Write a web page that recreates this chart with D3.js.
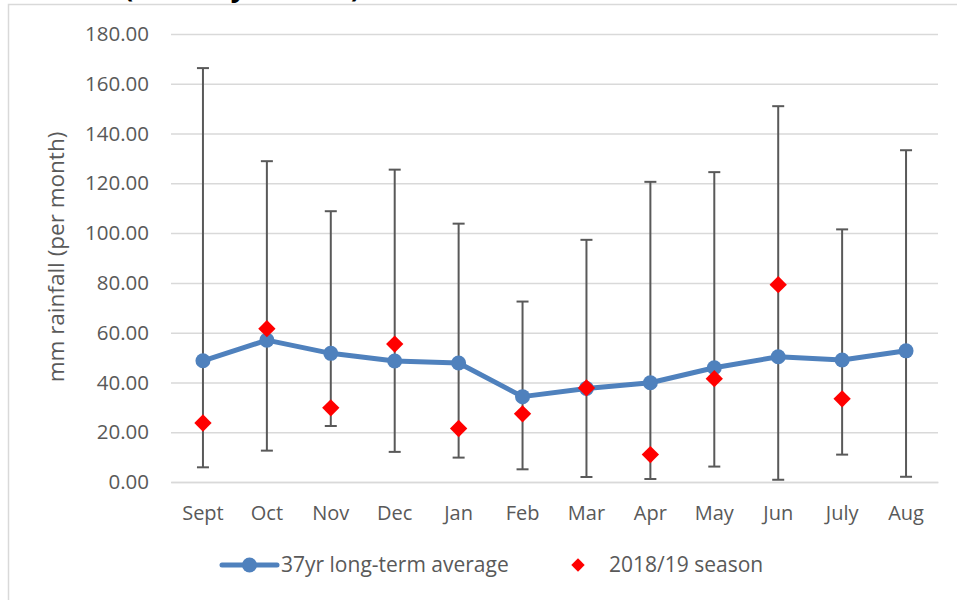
<!DOCTYPE html>
<html>
<head>
<meta charset="utf-8">
<script src="https://cdn.jsdelivr.net/npm/d3@7"></script>
<style>
  body { margin: 0; background: #fff; }
  svg { display: block; font-family: "Open Sans", sans-serif; }
</style>
</head>
<body>
<div id="chart"></div>
<script>
// months of the season
const months = ["Sept", "Oct", "Nov", "Dec", "Jan", "Feb", "Mar", "Apr", "May", "Jun", "July", "Aug"];
// 37yr long-term average (mm)
const longTermAvg = [48.7, 57.0, 51.7, 48.6, 47.8, 34.3, 37.6, 39.9, 45.9, 50.3, 49.0, 52.7];
// error bar range (min / max of the record)
const rangeLow = [5.9, 12.6, 22.5, 12.1, 9.8, 5.1, 2.0, 1.2, 6.2, 0.9, 11.0, 2.1];
const rangeHigh = [166.3, 128.9, 108.8, 125.5, 103.8, 72.5, 97.3, 120.6, 124.5, 151.0, 101.5, 133.3];
// 2018/19 season (no value yet for Aug)
const season1819 = [23.7, 61.6, 29.8, 55.4, 21.5, 27.4, 37.8, 11.0, 41.5, 79.3, 33.4, null];
const yTicks = [0, 20, 40, 60, 80, 100, 120, 140, 160, 180];

const W = 957, H = 600;
const margin = { top: 34, right: 19, bottom: 118, left: 171 };
const blue = "#4f81bd";
const textColor = "#595959";

const svg = d3.select("#chart")
    .append("svg")
    .attr("width", W)
    .attr("height", H);

// chart area border (only top and left edges show in frame)
svg.append("rect")
    .attr("x", 8.5).attr("y", 4.5)
    .attr("width", 1000).attr("height", 1000)
    .attr("fill", "none")
    .attr("stroke", "#d9d9d9")
    .attr("stroke-width", 1.5);

// title, mostly cut off at the top of the picture (as in the source)
svg.append("text")
    .attr("x", 124).attr("y", -3)
    .attr("font-size", 27)
    .attr("font-weight", "bold")
    .attr("fill", "#000")
    .text("(Monthly rainfall)");

const xScale = d3.scaleBand()
    .domain(months)
    .range([margin.left, W - margin.right]);

const yScale = d3.scaleLinear()
    .domain([0, 180])
    .range([H - margin.bottom, margin.top]);

const cx = m => xScale(m) + xScale.bandwidth() / 2;

// gridlines + y labels
const yAxis = d3.axisLeft(yScale)
    .tickValues(yTicks)
    .tickSize(-(W - margin.right - margin.left))
    .tickPadding(22)
    .tickFormat(d3.format(".2f"));

const gy = svg.append("g")
    .attr("transform", `translate(${margin.left},0)`)
    .call(yAxis);
gy.select(".domain").remove();
gy.selectAll(".tick line").attr("stroke", "#d9d9d9").attr("stroke-width", 1.5);
gy.selectAll(".tick text")
    .attr("fill", textColor)
    .attr("font-size", 20.5)
    .attr("font-family", "Open Sans, sans-serif");

// x labels
const xAxis = d3.axisBottom(xScale).tickSize(0).tickPadding(24);
const gx = svg.append("g")
    .attr("transform", `translate(0,${H - margin.bottom})`)
    .call(xAxis);
gx.select(".domain").attr("stroke", "#d9d9d9").attr("stroke-width", 1.5);
gx.selectAll(".tick text")
    .attr("fill", textColor)
    .attr("font-size", 20)
    .attr("font-family", "Open Sans, sans-serif");

// y axis title
svg.append("text")
    .attr("transform", `translate(64,257) rotate(-90)`)
    .attr("text-anchor", "middle")
    .attr("font-size", 22.5)
    .attr("fill", textColor)
    .text("mm rainfall (per month)");

// error bars
const capW = 6;
const bars = svg.append("g").attr("stroke", "#595959").attr("stroke-width", 2);
months.forEach((m, i) => {
    const x = cx(m);
    bars.append("line")
        .attr("x1", x).attr("x2", x)
        .attr("y1", yScale(rangeLow[i])).attr("y2", yScale(rangeHigh[i]));
    [rangeLow[i], rangeHigh[i]].forEach(v => {
        bars.append("line")
            .attr("x1", x - capW).attr("x2", x + capW)
            .attr("y1", yScale(v)).attr("y2", yScale(v));
    });
});

// long-term average line
const line = d3.line()
    .x((d, i) => cx(months[i]))
    .y(d => yScale(d));

svg.append("path")
    .datum(longTermAvg)
    .attr("d", line)
    .attr("fill", "none")
    .attr("stroke", blue)
    .attr("stroke-width", 5)
    .attr("stroke-linejoin", "round");

svg.append("g")
    .selectAll("circle")
    .data(longTermAvg)
    .join("circle")
    .attr("cx", (d, i) => cx(months[i]))
    .attr("cy", d => yScale(d))
    .attr("r", 7.5)
    .attr("fill", blue);

// 2018/19 season diamonds
const diamond = d3.symbol().type(d3.symbolSquare).size(150);
svg.append("g")
    .selectAll("path")
    .data(season1819.map((v, i) => ({ m: months[i], v })).filter(d => d.v !== null))
    .join("path")
    .attr("d", diamond)
    .attr("transform", d => `translate(${cx(d.m)},${yScale(d.v)}) rotate(45)`)
    .attr("fill", "#ff0000");

// legend
const legY = 565;
const leg = svg.append("g");
leg.append("line")
    .attr("x1", 222).attr("x2", 277)
    .attr("y1", legY).attr("y2", legY)
    .attr("stroke", blue).attr("stroke-width", 5)
    .attr("stroke-linecap", "round");
leg.append("circle")
    .attr("cx", 249.5).attr("cy", legY).attr("r", 7.5)
    .attr("fill", blue);
leg.append("text")
    .attr("x", 281).attr("y", legY + 7)
    .attr("font-size", 21).attr("fill", textColor)
    .text("37yr long-term average");
leg.append("path")
    .attr("d", d3.symbol().type(d3.symbolSquare).size(90))
    .attr("transform", `translate(578,${legY}) rotate(45)`)
    .attr("fill", "#ff0000");
leg.append("text")
    .attr("x", 609).attr("y", legY + 7)
    .attr("font-size", 21).attr("fill", textColor)
    .text("2018/19 season");
</script>
</body>
</html>
